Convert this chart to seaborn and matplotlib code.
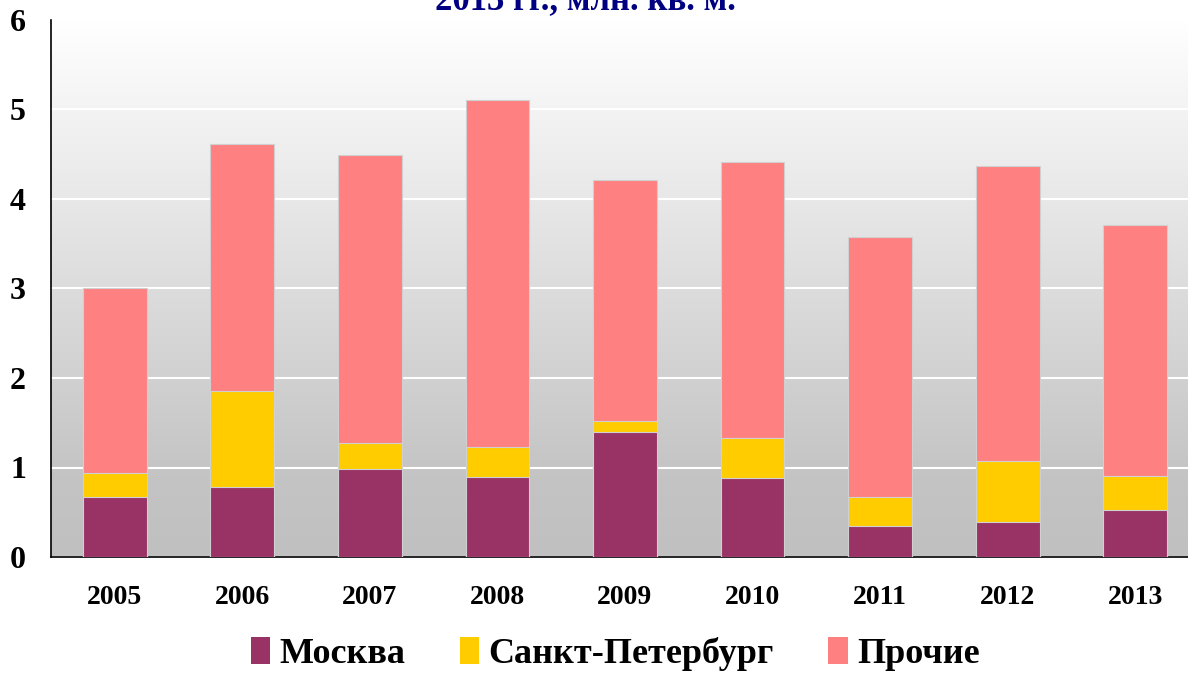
import numpy as np
import pandas as pd
import matplotlib
matplotlib.use("Agg")
import matplotlib.pyplot as plt
from matplotlib.patches import Patch
from matplotlib.ticker import MultipleLocator
import seaborn as sns

years = ["2005", "2006", "2007", "2008", "2009", "2010", "2011", "2012", "2013"]
moskva = [0.67, 0.78, 0.98, 0.89, 1.40, 0.88, 0.35, 0.39, 0.53]
spb = [0.27, 1.07, 0.29, 0.34, 0.12, 0.45, 0.32, 0.68, 0.38]
prochie = [2.06, 2.76, 3.22, 3.88, 2.69, 3.08, 2.91, 3.30, 2.80]

series_names = ["Москва", "Санкт-Петербург", "Прочие"]
colors = ["#993366", "#FFCC00", "#FF8080"]
title_text = "2013 гг., млн. кв. м."

sns.set_style("white")
plt.rcParams["font.family"] = ["Liberation Serif", "DejaVu Serif"]
plt.rcParams["font.weight"] = "bold"
plt.rcParams["text.color"] = "black"
plt.rcParams["xtick.color"] = "black"
plt.rcParams["ytick.color"] = "black"

df = pd.DataFrame({"year": years, "Москва": moskva,
                   "Санкт-Петербург": spb, "Прочие": prochie})
# cumulative heights for stacking
df["c1"] = df["Москва"]
df["c2"] = df["c1"] + df["Санкт-Петербург"]
df["c3"] = df["c2"] + df["Прочие"]

fig = plt.figure(figsize=(11.88, 6.73), dpi=100)
ax = fig.add_axes([51 / 1188, 116 / 673, 1148 / 1188, 537 / 673])

# gradient background
grad = np.linspace(0, 1, 256).reshape(-1, 1)
cmap = matplotlib.colors.LinearSegmentedColormap.from_list(
    "bg", [(0, "#c0c0c0"), (0.15, "#c4c4c4"), (1, "#ffffff")])
ax.imshow(grad, extent=(-0.5, 8.5, 0, 6), origin="lower", aspect="auto",
          cmap=cmap, zorder=0)

for col, c in zip(["c3", "c2", "c1"], colors[::-1]):
    sns.barplot(data=df, x="year", y=col, color=c, width=0.5, saturation=1,
                edgecolor="#d0d0d0", linewidth=0.8, ax=ax, zorder=3)

ax.set_xlim(-0.5, 8.5)
ax.set_ylim(0, 6)
ax.yaxis.set_major_locator(MultipleLocator(1))
ax.grid(axis="y", color="white", linewidth=1.5, zorder=1)
ax.set_axisbelow(True)
ax.set_xlabel("")
ax.set_ylabel("")

for s in ["top", "right"]:
    ax.spines[s].set_visible(False)
for s in ["left", "bottom"]:
    ax.spines[s].set_color("black")
    ax.spines[s].set_linewidth(1.2)

ax.tick_params(axis="y", direction="out", length=6, width=1, labelsize=23, pad=12)
ax.tick_params(axis="x", which="major", length=0, labelsize=20, pad=20)
ax.set_xticks(np.arange(0.5, 8.5, 1), minor=True)
ax.tick_params(axis="x", which="minor", direction="out", length=6, width=1)
for lab in ax.get_xticklabels() + ax.get_yticklabels():
    lab.set_fontweight("bold")

handles = [Patch(facecolor=c, edgecolor="none") for c in colors]
fig.legend(handles, series_names, loc="center", bbox_to_anchor=(615 / 1188, 1 - 654 / 673),
           ncol=3, frameon=False, prop={"size": 26, "weight": "bold"},
           handlelength=0.55, handleheight=0.75, handletextpad=0.25, columnspacing=1.5)

fig.text(585 / 1188, 1 - 9 / 673, title_text, ha="center", va="baseline",
         fontsize=25, fontweight="bold", color="#000080")

fig.savefig("out.png", dpi=100)
